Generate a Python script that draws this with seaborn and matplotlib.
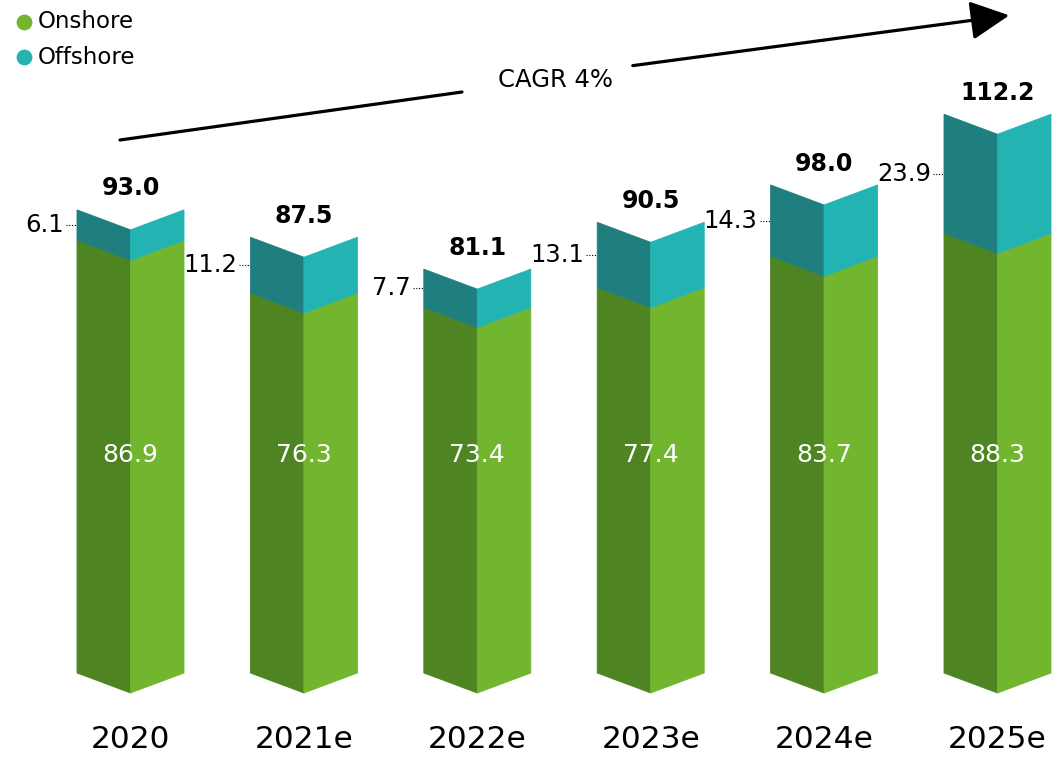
import matplotlib
matplotlib.use('Agg')
import matplotlib.pyplot as plt
import seaborn as sns

sns.set_theme(style="white")
plt.rcParams['font.family'] = ['DejaVu Sans']

years = ['2020', '2021e', '2022e', '2023e', '2024e', '2025e']
onshore = [86.9, 76.3, 73.4, 77.4, 83.7, 88.3]
offshore = [6.1, 11.2, 7.7, 13.1, 14.3, 23.9]
totals = [93.0, 87.5, 81.1, 90.5, 98.0, 112.2]
cagr_label = 'CAGR 4%'

on_dark, on_light = '#4F8422', '#72B630'
off_dark, off_light = '#1F7F7E', '#23B3B3'

W, H = 1057, 760
fig = plt.figure(figsize=(W / 100, H / 100), dpi=100)
ax = fig.add_axes([0, 0, 1, 1])

# pixel layout: bar 0 centre at 130.5px, 173.4px apart, value 0 at 673px, 4.98 px per unit
x0, dx, y0, py = 130.5, 173.4, 673, 4.98
ax.set_xlim(-x0 / dx, (W - x0) / dx)
ax.set_ylim(-(H - y0) / py, y0 / py)
ax.axis('off')

hw = 53.5 / dx      # half bar width
dep = 20 / py       # depth of the fold


def folded(c, b, t, dark, light):
    ax.fill([c - hw, c, c, c - hw], [b, b - dep, t - dep, t], color=dark, lw=0.6)
    ax.fill([c, c + hw, c + hw, c], [b - dep, b, t, t - dep], color=light, lw=0.6)


for i, yr in enumerate(years):
    on, off, tot = onshore[i], offshore[i], totals[i]
    folded(i, 0, on, on_dark, on_light)
    folded(i, on, on + off, off_dark, off_light)

    ax.text(i, tot + 4.3, f'{tot:.1f}', ha='center', va='center',
            fontsize=17, fontweight='bold', color='black')
    ax.text(i, 43.8, f'{on:.1f}', ha='center', va='center',
            fontsize=18, color='white')
    ym = on + off / 2
    ax.plot([i - hw - 11 / dx, i - hw], [ym, ym], color='black', lw=0.8, ls=(0, (1, 1.5)))
    ax.text(i - hw - 13 / dx, ym, f'{off:.1f}', ha='right', va='center',
            fontsize=17.5, color='black')
    ax.text(i, -(740 - y0) / py, yr, ha='center', va='center',
            fontsize=22.5, color='black')


def fr(px, pyy):
    return (px / W, 1 - pyy / H)


# CAGR arrow, broken by its label
ax.plot(*zip(fr(120, 140), fr(462, 92)), transform=ax.transAxes, color='black', lw=2.3)
ax.annotate('', xy=fr(1012, 15), xytext=fr(630, 66), xycoords='axes fraction',
            arrowprops=dict(arrowstyle='-|>,head_length=1.2,head_width=0.6',
                            mutation_scale=20, lw=2.3, color='black'))
ax.text(*fr(555, 80), cagr_label, transform=ax.transAxes, ha='center', va='center',
        fontsize=17.5, color='black')

# legend
for j, (lab, col) in enumerate([('Onshore', on_light), ('Offshore', off_light)]):
    yy = 22 + 35 * j
    ax.scatter(*fr(24, yy), s=130, color=col, transform=ax.transAxes, lw=0)
    ax.text(*fr(38, yy), lab, transform=ax.transAxes, ha='left', va='center',
            fontsize=16.5, color='black')

fig.savefig('out.png', dpi=100)
